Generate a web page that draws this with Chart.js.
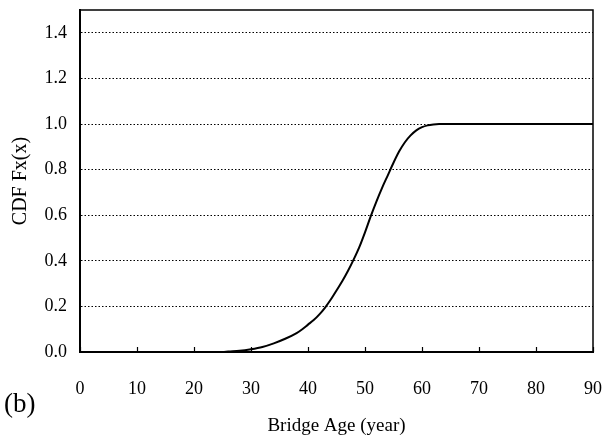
<!DOCTYPE html>
<html>
<head>
<meta charset="utf-8">
<script src="https://cdn.jsdelivr.net/npm/chart.js@4"></script>
<style>
  html, body { margin: 0; padding: 0; background: #fff; }
  #wrap { width: 602px; height: 437px; }
</style>
</head>
<body>
<div id="wrap"><canvas id="cdfChart" width="602" height="437"></canvas></div>
<script>
// bridge age (years) and CDF
const ages = [0, 5, 10, 15, 20, 25, 26, 28, 30, 32, 34, 36, 38, 39, 40, 41, 42, 43, 44, 45, 46, 47, 48, 49,
              50, 51, 52, 53, 54, 55, 56, 57, 58, 59, 60, 61, 62, 63, 64, 65, 70, 80, 90];
const cdf  = [0, 0, 0, 0, 0, 0, 0.002, 0.005, 0.012, 0.022, 0.038, 0.058, 0.083, 0.1, 0.12, 0.14, 0.165, 0.195, 0.23, 0.27, 0.31, 0.355, 0.405, 0.46,
              0.525, 0.595, 0.66, 0.72, 0.775, 0.83, 0.88, 0.92, 0.95, 0.972, 0.986, 0.994, 0.998, 1.0, 1.0, 1.0, 1.0, 1.0, 1.0];
const xTicks = [0, 10, 20, 30, 40, 50, 60, 70, 80, 90];
const yTicks = [0, 0.2, 0.4, 0.6, 0.8, 1.0, 1.2, 1.4];

const serif = '"Liberation Serif", "Times New Roman", serif';

// frame, inner tick marks on the x axis and the panel letter
const framePlugin = {
    id: 'frame',
    afterDraw(chart) {
        const ctx = chart.ctx;
        const a = chart.chartArea;
        const xs = chart.scales.x;
        ctx.save();
        ctx.strokeStyle = '#000';
        ctx.lineWidth = 1.5;
        ctx.strokeRect(a.left, a.top, a.right - a.left, a.bottom - a.top);
        ctx.lineWidth = 1.2;
        xTicks.forEach(v => {
            const px = Math.round(xs.getPixelForValue(v)) + 0.5;
            ctx.beginPath();
            ctx.moveTo(px, a.bottom);
            ctx.lineTo(px, a.bottom - 5);
            ctx.stroke();
        });
        ctx.fillStyle = '#000';
        ctx.font = '27px ' + serif;
        ctx.textBaseline = 'middle';
        ctx.textAlign = 'left';
        ctx.fillText('(b)', 4, 405);
        ctx.restore();
    }
};

const ctx = document.getElementById('cdfChart').getContext('2d');
new Chart(ctx, {
    type: 'line',
    data: {
        datasets: [{
            data: ages.map((a, i) => ({ x: a, y: cdf[i] })),
            borderColor: '#000',
            borderWidth: 2,
            pointRadius: 0,
            cubicInterpolationMode: 'monotone',
            fill: false
        }]
    },
    options: {
        responsive: false,
        animation: false,
        layout: { padding: { top: 10, right: 9, left: 0, bottom: 0 } },
        plugins: { legend: { display: false }, tooltip: { enabled: false } },
        scales: {
            x: {
                type: 'linear',
                min: 0,
                max: 90,
                afterBuildTicks: s => { s.ticks = xTicks.map(v => ({ value: v })); },
                afterFit: s => { s.height = 85; s.paddingLeft = 0; s.paddingRight = 0; },
                grid: { display: false, drawTicks: false },
                border: { display: true, color: '#000', width: 2 },
                ticks: { color: '#000', padding: 26, font: { family: serif, size: 18 }, maxRotation: 0 },
                title: {
                    display: true,
                    text: 'Bridge Age (year)',
                    color: '#000',
                    font: { family: serif, size: 19 },
                    padding: { top: 0, bottom: 0 }
                }
            },
            y: {
                min: 0,
                max: 1.5,
                afterBuildTicks: s => { s.ticks = yTicks.map(v => ({ value: v })); },
                afterFit: s => { s.width = 80; s.paddingTop = 0; s.paddingBottom = 0; },
                grid: {
                    color: c => c.tick.value === 0 ? 'rgba(0,0,0,0)' : '#000',
                    lineWidth: 1,
                    drawTicks: false
                },
                border: { display: true, color: '#000', width: 2, dash: [1.5, 2] },
                ticks: {
                    color: '#000',
                    padding: 13,
                    font: { family: serif, size: 18 },
                    callback: v => v.toFixed(1)
                },
                title: {
                    display: true,
                    text: 'CDF Fx(x)',
                    color: '#000',
                    font: { family: serif, size: 20 },
                    padding: { top: 9, bottom: 0 }
                }
            }
        }
    },
    plugins: [framePlugin]
});
</script>
</body>
</html>
